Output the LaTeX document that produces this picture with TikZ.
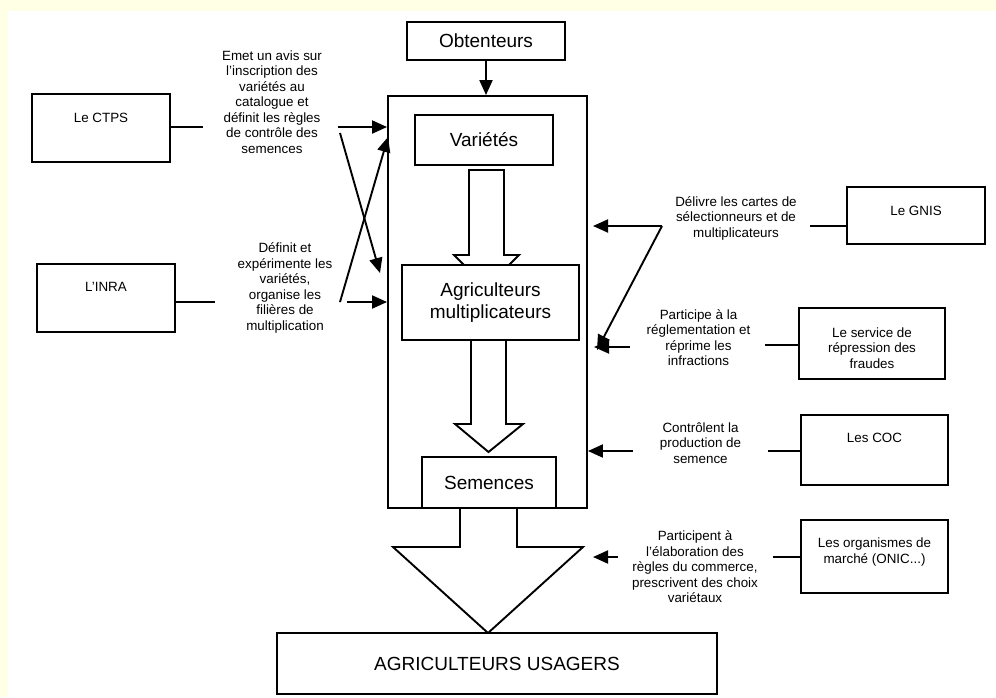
\documentclass[tikz,border=0pt]{standalone}
\usepackage{fontspec}
\setmainfont{Liberation Sans}
\usetikzlibrary{arrows.meta}
\definecolor{bgy}{RGB}{255,255,230}
\begin{document}
\begin{tikzpicture}[x=1pt,y=-1pt,
  box/.style={draw,line width=1.9pt,fill=white,inner sep=0pt},
  lbl/.style={inner sep=0pt,align=center,font=\fontsize{13.4}{15.5}\selectfont},
  big/.style={font=\fontsize{19}{21.5}\selectfont,align=center},
  ln/.style={line width=1.9pt},
  arr/.style={line width=1.9pt,-{Triangle[length=15pt,width=13pt]}},
  blk/.style={line width=1.9pt,fill=white,line join=miter}]
\fill[bgy] (0,0) rectangle (996,697);
\fill[white] (8,11) rectangle (996,697);
\useasboundingbox (0,0) rectangle (996,697);

% outer frame
\node[draw,line width=1.9pt,inner sep=0pt,minimum width=199pt,minimum height=412pt] (outer) at (487.5,302) {};

% block arrows
\draw[blk] (469,170) -- (504,170) -- (504,255) -- (519,255) -- (486.5,287.5) -- (454,255) -- (469,255) -- cycle;
\draw[blk] (471,340) -- (471,424) -- (455,424) -- (488.5,452) -- (523,424) -- (506,424) -- (506,340);
\draw[blk] (460,508) -- (460,547) -- (393,547) -- (488,633) -- (583,547) -- (517,547) -- (517,508);

% central boxes
\node[box,big,minimum width=158pt,minimum height=38pt] (obt) at (486,41) {Obtenteurs};
\node[box,big,minimum width=138pt,minimum height=50pt] (var) at (484,140) {Variétés};
\node[box,big,minimum width=177pt,minimum height=75pt] (agm) at (490.5,302.5) {Agriculteurs\\multiplicateurs};
\node[box,big,minimum width=134pt,minimum height=51pt] (sem) at (489,482.5) {Semences};
\node[box,big,minimum width=440pt,minimum height=61pt] (usa) at (497,663.5) {AGRICULTEURS USAGERS};

\draw[arr] (obt.south) -- (obt.south |- outer.north);

% left actors
\node[box,minimum width=138pt,minimum height=68pt] (ctps) at (101,128) {};
\node[lbl] (ctpst) at (101,118) {Le CTPS};
\node[box,minimum width=138pt,minimum height=68pt] (inra) at (106,298) {};
\node[lbl] (inrat) at (106,287) {L'INRA};

\node[lbl] (ctpsd) at (272,102) {Emet un avis sur\\l'inscription des\\variétés au\\catalogue et\\définit les règles\\de contrôle des\\semences};
\node[lbl] (inrad) at (285,288) {Définit et\\expérimente les\\variétés,\\organise les\\filières de\\multiplication};

\coordinate (ctpsA) at (203,127);
\coordinate (ctpsB) at (338,127);
\coordinate (inraA) at (215,302);
\coordinate (inraB) at (347,302);
\coordinate (xA) at (340,133);
\coordinate (xAe) at (380,273);
\coordinate (xB) at (340,302);
\coordinate (xBe) at (388,137);
\draw[ln] (ctps.east |- ctpsA) -- (ctpsA);
\draw[arr] (ctpsB) -- (ctpsB -| outer.west);
\draw[ln] (inra.east |- inraA) -- (inraA);
\draw[arr] (inraB) -- (inraB -| outer.west);
\draw[arr] (xA) -- (xAe);
\draw[arr] (xB) -- (xBe);

% right actors
\node[box,minimum width=138pt,minimum height=57pt] (gnis) at (916,215.5) {};
\node[lbl] (gnist) at (916,211) {Le GNIS};
\node[box,minimum width=146pt,minimum height=71pt] (srv) at (872,343.5) {};
\node[lbl] (srvt) at (872,348) {Le service de\\répression des\\fraudes};
\node[box,minimum width=147pt,minimum height=70pt] (coc) at (874.5,450) {};
\node[lbl] (coct) at (874.5,438) {Les COC};
\node[box,minimum width=147pt,minimum height=73pt] (org) at (874.5,556.5) {};
\node[lbl] (orgt) at (874.5,552) {Les organismes de\\marché (ONIC...)};

\node[lbl] (gnisd) at (736,218) {Délivre les cartes de\\sélectionneurs et de\\multiplicateurs};
\node[lbl] (srvd) at (698.5,337.5) {Participe à la\\réglementation et\\réprime les\\infractions};
\node[lbl] (cocd) at (700.5,443) {Contrôlent la\\production de\\semence};
\node[lbl] (orgd) at (695,567) {Participent à\\l'élaboration des\\règles du commerce,\\prescrivent des choix\\variétaux};

\coordinate (gnisA) at (810,226);
\coordinate (gnisB) at (662,226);
\coordinate (gnisE) at (593,226);
\coordinate (diagE) at (597,350);
\coordinate (srvA) at (765,345);
\coordinate (srvB) at (630,347);
\coordinate (srvE) at (594,347);
\coordinate (cocA) at (768,451);
\coordinate (cocB) at (633,451);
\coordinate (orgA) at (773,557);
\coordinate (orgB) at (618,557);
\coordinate (orgE) at (593,557);

\draw[ln] (gnis.west |- gnisA) -- (gnisA);
\draw[arr] (gnisB) -- (gnisE);
\draw[arr] (gnisB) -- (diagE);
\draw[ln] (srv.west |- srvA) -- (srvA);
\draw[arr] (srvB) -- (srvE);
\draw[ln] (coc.west |- cocA) -- (cocA);
\draw[arr] (cocB) -- (cocB -| outer.east);
\draw[ln] (org.west |- orgA) -- (orgA);
\draw[arr] (orgB) -- (orgE);
\end{tikzpicture}
\end{document}
